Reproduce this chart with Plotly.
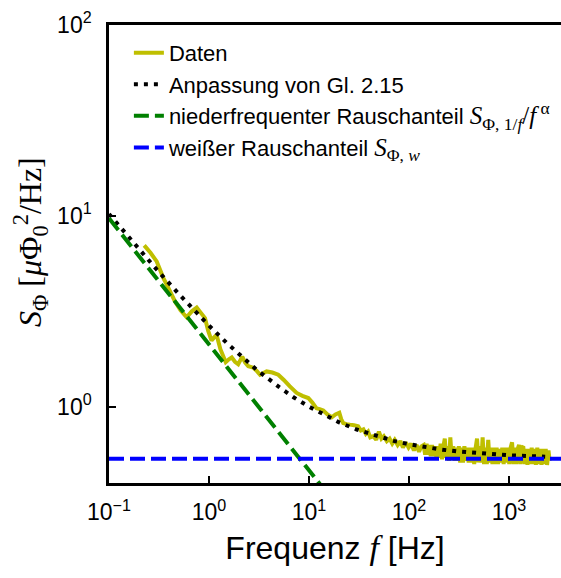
import plotly.graph_objects as go

# ---------------- data ----------------
freq_data = [0.225, 0.26, 0.30, 0.35, 0.40, 0.457, 0.52, 0.598, 0.67, 0.754, 0.83, 0.912,
             0.98, 1.06, 1.12, 1.19, 1.30, 1.47, 1.58, 1.69, 1.82, 1.96, 2.15, 2.30, 2.47,
             2.77, 3.0, 3.24, 3.77, 4.3, 4.93, 5.6, 6.4, 7.53, 8.6,
             9.84, 10.8, 11.9, 12.8, 13.9, 15.3, 16.9, 18.4, 20.1, 21.0, 22.0, 23.8, 25.7, 28.2,
             31, 33, 35, 37, 39, 41, 44, 47, 50, 53, 56, 60, 64, 68, 72, 77, 82, 87, 93, 99,
             105, 112, 119, 126, 133,
             140, 145, 150, 155, 160, 165, 170, 176, 182, 188, 194, 200, 207, 214, 221, 228,
             235, 243, 251, 259, 268, 277, 286, 295, 305, 315, 325, 336, 347, 358, 370, 382,
             395, 408, 421, 435, 449, 464, 479, 495, 511, 528, 545, 563, 581, 600, 620, 640,
             661, 683, 705, 728, 752, 777, 802, 829, 856, 884, 913, 943, 974, 1006, 1039,
             1073, 1108, 1145, 1182, 1221, 1261, 1302, 1345, 1389, 1435, 1482, 1530, 1580,
             1632, 1686, 1741, 1798, 1857, 1918, 1981, 2046, 2113, 2182, 2254, 2328, 2404,
             2483, 2550]
psd_data = [7.0, 6.4, 5.77, 4.72, 4.1, 3.56, 3.2, 2.94, 3.15, 3.31, 3.1, 2.91,
            2.5, 2.22, 2.3, 2.38, 2.0, 1.71, 1.77, 1.81, 1.72, 1.67, 1.83, 1.70, 1.63,
            1.60, 1.54, 1.47, 1.53, 1.51, 1.47, 1.38, 1.28, 1.18, 1.14,
            1.11, 1.05, 0.98, 0.97, 0.955, 0.91, 0.88, 0.91, 0.93, 0.86, 0.82, 0.81, 0.805, 0.80,
            0.79, 0.75, 0.76, 0.72, 0.74, 0.69, 0.70, 0.67, 0.74, 0.68, 0.70, 0.66, 0.68, 0.64,
            0.67, 0.63, 0.66, 0.61, 0.65, 0.61, 0.64, 0.59, 0.63, 0.58, 0.62,
            0.63, 0.56, 0.64, 0.56, 0.63, 0.55, 0.63, 0.55, 0.62, 0.54, 0.62, 0.54, 0.64, 0.53,
            0.62, 0.68, 0.54, 0.62, 0.52, 0.69, 0.53, 0.62, 0.52, 0.61, 0.52, 0.62, 0.51, 0.61,
            0.51, 0.62, 0.52, 0.61, 0.51, 0.61, 0.51, 0.61, 0.50, 0.61, 0.68, 0.51, 0.62, 0.51,
            0.69, 0.50, 0.61, 0.50, 0.67, 0.51, 0.61, 0.50, 0.61, 0.50, 0.61, 0.50, 0.60, 0.51,
            0.61, 0.50, 0.61, 0.51, 0.61, 0.50, 0.61, 0.65, 0.50, 0.61, 0.50, 0.60, 0.63, 0.50,
            0.61, 0.62, 0.50, 0.60, 0.495, 0.60, 0.50, 0.61, 0.50, 0.60, 0.495, 0.61, 0.50, 0.60,
            0.495, 0.60, 0.50, 0.60, 0.495, 0.59, 0.52]

freq_fit = [0.1, 0.15, 0.2, 0.3, 0.5, 0.7, 1, 1.5, 2, 3, 5, 7, 10, 15, 20, 30, 50, 70,
            100, 150, 200, 300, 500, 700, 1000, 1500, 2300]
psd_fit = [10.23, 7.96, 6.67, 5.23, 3.89, 3.22, 2.66, 2.16, 1.88, 1.56, 1.27, 1.12, 1.00,
           0.889, 0.828, 0.759, 0.694, 0.662, 0.636, 0.612, 0.598, 0.583, 0.569, 0.562,
           0.556, 0.551, 0.547]

freq_lowfreq = [0.1, 13]
psd_lowfreq = [9.7, 0.39]

freq_white = [0.1, 10000]
psd_white = [0.534, 0.534]

x_tickvals = [0.1, 1, 10, 100, 1000]
x_ticktext = ["10<sup>−1</sup>", "10<sup>0</sup>", "10<sup>1</sup>", "10<sup>2</sup>", "10<sup>3</sup>"]
y_tickvals = [1, 10, 100]
y_ticktext = ["10<sup>0</sup>", "10<sup>1</sup>", "10<sup>2</sup>"]

SANS = "Liberation Sans, Arial, sans-serif"
SERIF = "Liberation Serif, Times New Roman, serif"


def math(s, size=None):
    st = f"font-family:{SERIF}"
    if size:
        st += f";font-size:{size}px"
    return f"<span style='{st}'>{s}</span>"


names = [
    "Daten",
    "Anpassung von Gl. 2.15",
    "niederfrequenter Rauschanteil " + math("<i>S</i><sub>Φ, 1/<i>f</i></sub>/<i>f</i><sup> α</sup>", 25),
    "weißer Rauschanteil " + math("<i>S</i><sub>Φ, <i>w</i></sub>", 25),
]

fig = go.Figure()
fig.add_trace(go.Scatter(x=freq_data, y=psd_data, mode="lines", name=names[0],
                         line=dict(color="#BFBF00", width=4, simplify=False)))
fig.add_trace(go.Scatter(x=freq_fit, y=psd_fit, mode="lines", name=names[1],
                         line=dict(color="black", width=4, dash="4px,6px")))
fig.add_trace(go.Scatter(x=freq_lowfreq, y=psd_lowfreq, mode="lines", name=names[2],
                         line=dict(color="#008000", width=4, dash="15px,6px")))
fig.add_trace(go.Scatter(x=freq_white, y=psd_white, mode="lines", name=names[3],
                         line=dict(color="#0000FF", width=4, dash="15px,6px")))

fig.update_layout(
    width=561, height=578,
    margin=dict(l=109, r=0, t=25, b=95),
    paper_bgcolor="white", plot_bgcolor="white",
    font=dict(family=SANS, color="black"),
    showlegend=True,
    legend=dict(x=0.044, y=0.985, xanchor="left", yanchor="top",
                bgcolor="rgba(0,0,0,0)", font=dict(size=22, family=SANS),
                tracegroupgap=0, itemwidth=30),
    annotations=[dict(
        text="<i>S</i><sub>Φ</sub> [<i>μ</i>Φ<sub>0</sub><sup>2</sup>/Hz]",
        font=dict(size=32, family=SERIF, color="black"),
        textangle=-90, xref="paper", yref="paper",
        x=(30 - 109) / 452, y=(483 - 242) / 458,
        xanchor="center", yanchor="middle", showarrow=False,
    )],
)
fig.update_xaxes(
    type="log", range=[-1, 3.52],
    tickvals=x_tickvals, ticktext=x_ticktext,
    tickfont=dict(size=23, family=SANS),
    ticks="inside", ticklen=7, tickwidth=2, tickcolor="black",
    showline=True, linewidth=2.5, linecolor="black", mirror=True,
    showgrid=False, zeroline=False,
    ticklabelstandoff=7,
    title=dict(text="Frequenz " + math("<i>f</i>", 34) + " [Hz]",
               font=dict(size=32, family=SANS), standoff=13),
)
fig.update_yaxes(
    type="log", range=[-0.4, 2],
    tickvals=y_tickvals, ticktext=y_ticktext,
    tickfont=dict(size=23, family=SANS),
    ticks="inside", ticklen=7, tickwidth=2, tickcolor="black",
    showline=True, linewidth=2.5, linecolor="black", mirror=False,
    showgrid=False, zeroline=False,
    ticklabelstandoff=10,
)

fig.write_html("out.html")
